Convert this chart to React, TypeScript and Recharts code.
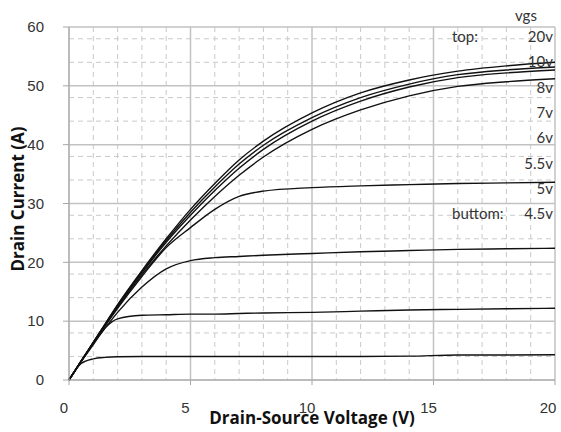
import { CartesianGrid, Line, LineChart, XAxis, YAxis } from "recharts"

// drain-source voltage (V) samples shared by every curve
const vds = [0, 0.5, 1, 1.5, 2, 3, 4, 5, 6, 7, 8, 10, 12, 14, 16, 18, 20]

// drain current (A) for each gate voltage
const id20 = [0, 3.2, 6.4, 9.6, 12.8, 18.6, 24.0, 29.0, 33.4, 37.4, 40.6, 45.4, 48.8, 51.0, 52.5, 53.4, 54.0]
const id10 = [0, 3.2, 6.4, 9.6, 12.7, 18.4, 23.7, 28.5, 32.8, 36.7, 39.9, 44.6, 48.0, 50.3, 51.9, 52.7, 53.2]
const id8 = [0, 3.2, 6.4, 9.5, 12.6, 18.2, 23.4, 28.0, 32.2, 36.0, 39.2, 44.0, 47.4, 49.8, 51.4, 52.2, 52.7]
const id7 = [0, 3.2, 6.3, 9.4, 12.4, 17.9, 22.8, 27.2, 31.2, 34.8, 37.9, 42.6, 45.9, 48.3, 49.9, 50.7, 51.2]
const id6 = [0, 3.2, 6.3, 9.3, 12.2, 17.6, 22.5, 25.9, 29.0, 31.2, 32.1, 32.7, 33.0, 33.2, 33.4, 33.5, 33.6]
const id55 = [0, 3.2, 6.2, 8.9, 11.5, 15.8, 18.9, 20.3, 20.8, 21.0, 21.2, 21.5, 21.8, 22.0, 22.2, 22.3, 22.4]
const id5 = [0, 3.1, 6.0, 8.9, 10.4, 11.0, 11.1, 11.2, 11.2, 11.3, 11.4, 11.5, 11.7, 11.9, 12.0, 12.1, 12.2]
const id45 = [0, 2.8, 3.6, 3.85, 3.95, 4.0, 4.0, 4.0, 4.0, 4.0, 4.0, 4.0, 4.0, 4.05, 4.25, 4.25, 4.3]

const seriesKeys = ["v20", "v10", "v8", "v7", "v6", "v55", "v5", "v45"]
const seriesValues = [id20, id10, id8, id7, id6, id55, id5, id45]
const legendLabels = ["20v", "10v", "8v", "7v", "6v", "5.5v", "5v", "4.5v"]

const xTicks = [0, 5, 10, 15, 20]
const yTicks = [0, 10, 20, 30, 40, 50, 60]
const xMinor = [1, 2, 3, 4, 6, 7, 8, 9, 11, 12, 13, 14, 16, 17, 18, 19]
const yMinor = [2, 4, 6, 8, 12, 14, 16, 18, 22, 24, 26, 28, 32, 34, 36, 38, 42, 44, 46, 48, 52, 54, 56, 58]

const data = vds.map((v, i) => {
  const row: Record<string, number> = { v }
  seriesKeys.forEach((k, s) => {
    row[k] = seriesValues[s][i]
  })
  return row
})

const tickFont = "'Liberation Sans', Arial, sans-serif"
const titleFont = "'Open Sans', Lato, sans-serif"
const noteFont = "Lato, 'Open Sans', sans-serif"

function XTick(props: any) {
  const { x, y, payload } = props
  return (
    <text x={x - 5} y={y + 26} textAnchor="middle" fontFamily={tickFont} fontSize={15} fill="#333">
      {payload.value}
    </text>
  )
}

function YTitle() {
  return (
    <text
      x={17}
      y={199}
      transform="rotate(-90 17 199)"
      textAnchor="middle"
      dominantBaseline="central"
      fontFamily={titleFont}
      fontWeight={700}
      fontSize={17}
      fill="#111"
    >
      Drain Current (A)
    </text>
  )
}

function XTitle() {
  return (
    <text x={312} y={424} textAnchor="middle" fontFamily={titleFont} fontWeight={700} fontSize={17} fill="#111">
      Drain-Source Voltage (V)
    </text>
  )
}

export default function App() {
  return (
    <div style={{ position: "absolute", left: 0, top: 0, width: 561, height: 432, background: "#fff" }}>
      <LineChart width={561} height={432} data={data} margin={{ top: 27, right: 6, bottom: 0, left: 0 }}>
        <CartesianGrid
          horizontalValues={yMinor}
          verticalValues={xMinor}
          stroke="#c9c9c9"
          strokeDasharray="5 4"
        />
        <CartesianGrid horizontalValues={yTicks} verticalValues={xTicks} stroke="#c2c2c2" strokeWidth={1.5} />
        <XAxis
          dataKey="v"
          type="number"
          domain={[0, 20]}
          ticks={xTicks}
          height={52}
          tickSize={5}
          stroke="#a6a6a6"
          tick={<XTick />}
          label={<XTitle />}
        />
        <YAxis
          type="number"
          domain={[0, 60]}
          ticks={yTicks}
          width={69}
          tickSize={6}
          tickMargin={19}
          stroke="#a6a6a6"
          tick={{ fontFamily: tickFont, fontSize: 15, fill: "#333" }}
          label={<YTitle />}
        />
        {seriesKeys.map((k) => (
          <Line
            key={k}
            dataKey={k}
            type="monotone"
            stroke="#111"
            strokeWidth={1.4}
            dot={false}
            isAnimationActive={false}
          />
        ))}
      </LineChart>
      <svg
        width={561}
        height={432}
        style={{ position: "absolute", left: 0, top: 0, pointerEvents: "none" }}
        fontFamily={noteFont}
        fontSize={15}
        fill="#333"
      >
        <text x={526} y={15} textAnchor="middle" dominantBaseline="central">
          vgs
        </text>
        <text x={452} y={36} dominantBaseline="central">
          top:
        </text>
        <text x={452} y={213} dominantBaseline="central">
          buttom:
        </text>
        {legendLabels.map((l, i) => (
          <text key={l} x={553} y={36 + i * 25.3} textAnchor="end" dominantBaseline="central">
            {l}
          </text>
        ))}
      </svg>
    </div>
  )
}
